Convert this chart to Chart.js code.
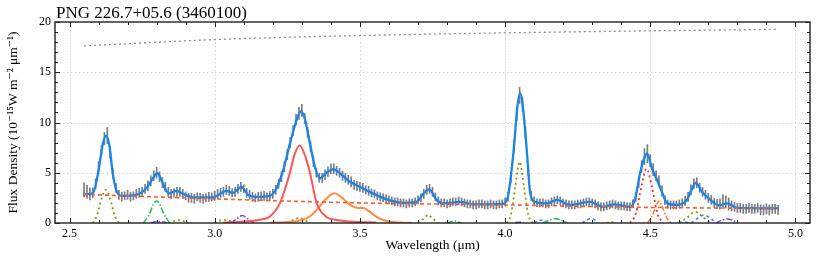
<!DOCTYPE html>
<html><head><meta charset="utf-8">
<script src="https://cdn.jsdelivr.net/npm/chart.js@4/dist/chart.umd.min.js"></script>
<style>html,body{margin:0;padding:0;background:#fff;}canvas{display:block;}</style>
</head><body>
<canvas id="c" width="830" height="256"></canvas>
<script>
const chartTitle = 'PNG 226.7+05.6 (3460100)';
const xLabel = 'Wavelength (μm)';
const yLabel = 'Flux Density (10⁻¹⁵W m⁻² μm⁻¹)';
const xTicks = [2.5, 3.0, 3.5, 4.0, 4.5, 5.0];
const yTicks = [0, 5, 10, 15, 20];

// observed spectrum (with 1-sigma errors)
const obsX = [
2.55,2.56,2.57,2.58,2.59,2.60,2.61,2.62,2.63,2.64,
2.65,2.66,2.67,2.68,2.69,2.70,2.71,2.72,2.73,2.74,
2.75,2.76,2.77,2.78,2.79,2.80,2.81,2.82,2.83,2.84,
2.85,2.86,2.87,2.88,2.89,2.90,2.91,2.92,2.93,2.94,
2.95,2.96,2.97,2.98,2.99,3.00,3.01,3.02,3.03,3.04,
3.05,3.06,3.07,3.08,3.09,3.10,3.11,3.12,3.13,3.14,
3.15,3.16,3.17,3.18,3.19,3.20,3.21,3.22,3.23,3.24,
3.25,3.26,3.27,3.28,3.29,3.30,3.31,3.32,3.33,3.34,
3.35,3.36,3.37,3.38,3.39,3.40,3.41,3.42,3.43,3.44,
3.45,3.46,3.47,3.48,3.49,3.50,3.51,3.52,3.53,3.54,
3.55,3.56,3.57,3.58,3.59,3.60,3.61,3.62,3.63,3.64,
3.65,3.66,3.67,3.68,3.69,3.70,3.71,3.72,3.73,3.74,
3.75,3.76,3.77,3.78,3.79,3.80,3.81,3.82,3.83,3.84,
3.85,3.86,3.87,3.88,3.89,3.90,3.91,3.92,3.93,3.94,
3.95,3.96,3.97,3.98,3.99,4.00,4.01,4.02,4.03,4.04,
4.05,4.06,4.07,4.08,4.09,4.10,4.11,4.12,4.13,4.14,
4.15,4.16,4.17,4.18,4.19,4.20,4.21,4.22,4.23,4.24,
4.25,4.26,4.27,4.28,4.29,4.30,4.31,4.32,4.33,4.34,
4.35,4.36,4.37,4.38,4.39,4.40,4.41,4.42,4.43,4.44,
4.45,4.46,4.47,4.48,4.49,4.50,4.51,4.52,4.53,4.54,
4.55,4.56,4.57,4.58,4.59,4.60,4.61,4.62,4.63,4.64,
4.65,4.66,4.67,4.68,4.69,4.70,4.71,4.72,4.73,4.74,
4.75,4.76,4.77,4.78,4.79,4.80,4.81,4.82,4.83,4.84,
4.85,4.86,4.87,4.88,4.89,4.90,4.91,4.92,4.93,4.94];
const obsY = [
3.3,3.1,2.9,3.0,3.9,5.6,7.2,8.4,8.7,7.0,
4.9,3.5,2.8,2.6,2.7,2.8,2.6,2.7,2.9,3.0,
3.1,3.4,3.7,4.2,4.7,5.0,4.6,4.0,3.6,3.1,
2.9,3.0,3.1,3.1,2.9,2.7,2.5,2.5,2.4,2.6,
2.5,2.4,2.5,2.6,2.6,2.7,2.9,3.0,3.1,3.3,
3.2,3.0,3.1,3.4,3.6,3.4,3.0,2.8,2.6,2.5,
2.6,2.7,2.7,2.6,2.7,2.9,3.3,3.9,4.6,5.6,
6.8,8.0,9.2,10.3,10.9,11.2,10.4,9.0,7.6,6.1,
5.0,4.5,4.5,4.8,5.1,5.4,5.4,5.2,5.0,4.7,
4.5,4.3,4.1,3.8,3.7,3.6,3.5,3.3,3.2,3.0,
2.9,2.7,2.6,2.5,2.4,2.3,2.2,2.1,2.1,2.0,
2.0,1.9,2.0,2.0,2.1,2.3,2.5,2.9,3.3,3.4,
3.1,2.6,2.2,2.0,2.0,1.9,2.0,2.1,2.1,2.2,
2.1,2.0,1.9,1.9,1.8,1.8,1.9,1.9,1.8,1.8,
1.9,1.8,1.8,1.9,1.9,2.1,2.6,4.5,7.6,10.8,
12.7,11.8,9.0,5.2,2.7,2.2,2.0,2.0,2.0,1.9,
1.9,2.1,2.2,2.3,2.2,2.0,1.9,1.8,1.8,1.8,
1.9,1.9,2.0,2.1,2.1,2.0,1.9,1.7,1.6,1.6,
1.7,1.8,1.9,1.8,1.7,1.7,1.7,1.6,1.6,1.9,
2.6,4.0,5.6,6.6,6.9,6.2,5.3,4.7,4.2,3.2,
2.3,1.9,1.8,1.8,1.8,1.9,2.0,2.2,2.6,3.3,
3.9,4.0,3.5,3.1,2.8,2.5,2.3,2.0,1.9,1.9,
2.2,2.1,1.9,1.7,1.6,1.5,1.5,1.4,1.4,1.5,
1.4,1.4,1.5,1.3,1.3,1.4,1.3,1.4,1.4,1.3];
const obsErr = [
0.7,0.65,0.6,0.5,0.5,0.5,0.5,0.6,0.8,0.6,
0.5,0.45,0.45,0.45,0.4,0.45,0.45,0.4,0.45,0.45,
0.45,0.45,0.5,0.5,0.5,0.55,0.5,0.5,0.45,0.45,
0.45,0.4,0.45,0.45,0.45,0.4,0.45,0.45,0.45,0.4,
0.45,0.45,0.4,0.45,0.4,0.45,0.45,0.45,0.45,0.45,
0.45,0.4,0.45,0.45,0.45,0.4,0.45,0.45,0.45,0.4,
0.45,0.4,0.45,0.4,0.45,0.45,0.45,0.45,0.5,0.5,
0.5,0.5,0.5,0.55,0.6,0.6,0.5,0.5,0.5,0.5,
0.45,0.45,0.45,0.5,0.5,0.5,0.5,0.45,0.45,0.45,
0.45,0.45,0.5,0.45,0.45,0.45,0.45,0.4,0.45,0.4,
0.4,0.4,0.4,0.4,0.4,0.4,0.4,0.4,0.4,0.4,
0.4,0.4,0.4,0.4,0.4,0.4,0.4,0.45,0.45,0.45,
0.45,0.4,0.4,0.4,0.4,0.4,0.4,0.4,0.4,0.4,
0.4,0.4,0.4,0.4,0.4,0.4,0.4,0.4,0.4,0.4,
0.4,0.4,0.4,0.4,0.4,0.4,0.45,0.5,0.6,0.6,
0.8,0.7,0.6,0.5,0.45,0.4,0.4,0.4,0.4,0.4,
0.4,0.4,0.4,0.4,0.4,0.4,0.4,0.4,0.4,0.4,
0.4,0.4,0.4,0.4,0.4,0.4,0.4,0.4,0.4,0.4,
0.4,0.4,0.4,0.4,0.4,0.4,0.4,0.4,0.4,0.4,
0.45,0.5,0.6,0.8,0.9,0.6,0.6,0.5,0.5,0.5,
0.45,0.4,0.4,0.4,0.4,0.4,0.4,0.45,0.45,0.5,
0.5,0.5,0.45,0.45,0.45,0.45,0.45,0.45,0.45,0.5,
0.6,0.6,0.6,0.5,0.45,0.45,0.45,0.45,0.45,0.45,
0.45,0.45,0.45,0.5,0.5,0.5,0.5,0.45,0.45,0.45];

// total fit
const fitX = [2.548,2.58,2.598,2.615,2.626,2.638,2.649,2.667,2.684,2.73,2.764,2.787,2.802,2.816,2.833,2.845,2.868,2.891,2.925,2.994,3.04,3.063,3.092,3.115,3.144,3.19,3.213,3.236,3.259,3.282,3.297,3.31,3.328,3.345,3.362,3.385,3.408,3.431,3.466,3.5,3.534,3.592,3.649,3.695,3.718,3.739,3.764,3.787,3.845,3.891,3.994,4.011,4.029,4.043,4.052,4.063,4.075,4.086,4.103,4.144,4.178,4.224,4.293,4.339,4.373,4.431,4.448,4.466,4.489,4.506,4.523,4.54,4.558,4.592,4.626,4.644,4.657,4.678,4.707,4.736,4.764,4.799,4.942];
const fitY = [2.85,2.95,4.9,7.9,8.7,7.6,4.9,2.9,2.7,2.8,3.45,4.45,4.95,4.3,3.2,2.95,3.2,2.9,2.55,2.55,3.2,3.0,3.6,2.8,2.6,2.7,3.45,5.3,7.9,10.25,11.1,10.4,7.9,5.6,4.45,5.0,5.35,4.95,4.1,3.6,3.1,2.35,2.0,2.1,2.9,3.35,2.3,1.95,2.1,1.85,1.9,2.8,7.1,11.7,12.9,11.1,7.1,3.1,2.1,1.95,2.3,1.8,2.1,1.6,1.85,1.6,2.45,5.1,6.9,5.4,4.3,3.1,1.95,1.8,2.3,3.45,4.0,3.1,2.3,1.75,1.95,1.5,1.45];

// continuum and upper reference curve
const contX = [2.55, 3.0, 3.5, 4.0, 4.5, 4.94];
const contY = [2.85, 2.4, 2.0, 1.8, 1.55, 1.45];
const topX = [2.55, 3.0, 3.5, 4.0, 4.5, 4.94];
const topY = [17.62, 18.25, 18.65, 18.92, 19.12, 19.27];

// 3.3 um (red) and 3.4 um (orange) features
const f33X = [3.03,3.10,3.15,3.19,3.225,3.259,3.275,3.293,3.31,3.328,3.351,3.385,3.42,3.46,3.557];
const f33Y = [0.05,0.15,0.3,0.65,2.0,5.0,6.8,7.7,6.8,5.0,2.0,0.6,0.3,0.15,0.05];
const f34X = [3.19,3.25,3.30,3.33,3.351,3.385,3.414,3.435,3.454,3.475,3.495,3.511,3.535,3.557,3.58,3.6,3.64,3.678];
const f34Y = [0.02,0.1,0.3,0.7,1.3,2.45,2.95,2.6,2.1,1.65,1.5,1.5,1.1,0.6,0.3,0.15,0.05,0.02];

// line components (null = gap between separate lines)
const oliveX = [2.58,2.595,2.61,2.625,2.64,2.655,2.67,null,2.84,2.86,2.88,2.90,2.91,null,3.0,3.02,3.04,3.06,3.07,null,3.25,3.27,3.29,3.31,3.33,null,3.70,3.72,3.735,3.75,3.77,null,4.005,4.02,4.035,4.05,4.065,4.08,4.095,null,4.35,4.365,4.38,null,4.60,4.625,4.655,4.685,4.71];
const oliveY = [0,0.8,2.4,3.3,2.4,0.8,0,null,0,0.2,0.28,0.12,0,null,0,0.25,0.32,0.1,0,null,0,0.3,0.5,0.3,0,null,0,0.45,0.8,0.45,0,null,0,0.8,3.6,6.1,3.6,0.8,0,null,0,0.12,0,null,0,0.5,1.1,0.5,0];
const greenX = [2.755,2.775,2.79,2.80,2.81,2.825,2.845,null,3.80,3.825,3.85,null,4.13,4.155,4.175,4.195,4.215];
const greenY = [0,0.9,1.9,2.2,1.9,0.9,0,null,0,0.2,0,null,0,0.3,0.42,0.25,0];
const purpleX = [2.78,2.80,2.825,2.835,null,3.055,3.075,3.095,3.115,3.135,null,4.035,4.05,4.065,null,4.725,4.745,4.765,4.785,4.80];
const purpleY = [0,0.15,0.1,0,null,0,0.4,0.75,0.4,0,null,0.05,0.07,0.05,null,0,0.25,0.4,0.25,0];
const blueX = [4.10,4.115,4.13,4.15,null,4.265,4.285,4.30,4.32,null,4.60,4.62,4.64,null,4.64,4.665,4.685,4.705,4.73];
const blueY = [0,0.25,0.3,0,null,0,0.35,0.45,0,null,0,0.1,0,null,0,0.5,0.8,0.5,0];
const redDotX = [4.43,4.45,4.47,4.487,4.505,4.525,4.545];
const redDotY = [0,0.9,3.7,5.4,3.7,0.9,0];
const orangeDDX = [4.49,4.505,4.52,4.53,4.54,4.555,4.57];
const orangeDDY = [0,0.6,1.7,2.2,1.7,0.6,0];

const pts = (xs, ys) => xs.map((x, i) => ({x: x === null ? NaN : x, y: ys[i]}));
const serif = '"Liberation Serif", "DejaVu Serif", serif';

const framePlugin = {
  id: 'frame',
  beforeDatasetsDraw(chart) {
    const {ctx, chartArea: a, scales: {x, y}} = chart;
    ctx.save();
    ctx.strokeStyle = '#d4d4d4';
    ctx.lineWidth = 1;
    ctx.setLineDash([1.5, 2.5]);
    xTicks.forEach(v => {
      const p = Math.round(x.getPixelForValue(v)) + 0.5;
      ctx.beginPath(); ctx.moveTo(p, a.top); ctx.lineTo(p, a.bottom); ctx.stroke();
    });
    yTicks.forEach(v => {
      if (v === 0 || v === 20) return;
      const p = Math.round(y.getPixelForValue(v)) + 0.5;
      ctx.beginPath(); ctx.moveTo(a.left, p); ctx.lineTo(a.right, p); ctx.stroke();
    });
    ctx.restore();
  },
  afterDraw(chart) {
    const {ctx, chartArea: a, scales: {x, y}} = chart;
    ctx.save();
    ctx.strokeStyle = '#222';
    ctx.lineWidth = 1;
    ctx.setLineDash([]);
    for (let i = 25; i <= 50; i++) {
      const p = Math.round(x.getPixelForValue(i / 10)) + 0.5;
      const len = (i % 5 === 0) ? 5 : 3;
      ctx.beginPath();
      ctx.moveTo(p, a.bottom); ctx.lineTo(p, a.bottom - len);
      ctx.moveTo(p, a.top); ctx.lineTo(p, a.top + len);
      ctx.stroke();
    }
    for (let v = 0; v <= 20; v++) {
      const p = Math.round(y.getPixelForValue(v)) + 0.5;
      const len = (v % 5 === 0) ? 5 : 3;
      ctx.beginPath();
      ctx.moveTo(a.left, p); ctx.lineTo(a.left + len, p);
      ctx.moveTo(a.right, p); ctx.lineTo(a.right - len, p);
      ctx.stroke();
    }
    ctx.lineWidth = 1.4;
    ctx.strokeRect(a.left, a.top, a.right - a.left, a.bottom - a.top);
    ctx.fillStyle = '#000';
    ctx.font = '17px ' + serif;
    ctx.textAlign = 'left';
    ctx.textBaseline = 'alphabetic';
    ctx.fillText(chartTitle, a.left + 1, 18);
    ctx.restore();
  }
};

const lineDs = (xs, ys, color, dash, width, order) => ({
  type: 'line', data: pts(xs, ys), borderColor: color, borderWidth: width,
  borderDash: dash, pointRadius: 0, fill: false, spanGaps: false,
  cubicInterpolationMode: 'monotone', order: order
});

new Chart(document.getElementById('c'), {
  type: 'line',
  data: {
    datasets: [
      {type: 'bar', data: obsX.map((x, i) => ({x: x, y: [obsY[i] - obsErr[i], obsY[i] + obsErr[i]]})),
        backgroundColor: '#7c7c7c', borderWidth: 0, barThickness: 1, grouped: false, order: 10},
      lineDs(topX, topY, '#8c8c8c', [2, 3], 1.3, 2),
      lineDs(f33X, f33Y, '#ff5555', [], 2, 4),
      lineDs(f34X, f34Y, '#ff8c45', [], 2, 4),
      lineDs(oliveX, oliveY, '#8a9a12', [2, 3], 1.8, 4),
      lineDs(greenX, greenY, '#1fbf4a', [6, 2, 1.5, 2], 1.5, 4),
      lineDs(purpleX, purpleY, '#7a3cf0', [6, 2, 1.5, 2], 1.5, 4),
      lineDs(blueX, blueY, '#3a78ff', [3, 3], 1.5, 4),
      lineDs(redDotX, redDotY, '#ff2a2a', [2, 3], 1.8, 4),
      lineDs(orangeDDX, orangeDDY, '#ff7a1a', [5, 2, 1.5, 2], 1.5, 4),
      lineDs(fitX, fitY, '#1a84e8', [], 2.3, 3),
      lineDs(contX, contY, '#ff5a2e', [4, 3], 1.6, 2)
    ]
  },
  options: {
    responsive: false, animation: false, devicePixelRatio: 1,
    layout: {padding: {left: 0, right: 20, top: 22, bottom: 0}},
    plugins: {legend: {display: false}, tooltip: {enabled: false}, title: {display: false}},
    scales: {
      x: {
        type: 'linear', min: 2.45, max: 5.05, offset: false,
        afterFit: s => { s.height = 33; },
        grid: {display: false, drawTicks: false}, border: {display: false},
        ticks: {stepSize: 0.5, includeBounds: false, padding: 4, color: '#000', maxRotation: 0,
          font: {family: serif, size: 12}, callback: v => xTicks.includes(Math.round(v * 10) / 10) ? v.toFixed(1) : ''},
        title: {display: true, text: xLabel, color: '#000', font: {family: serif, size: 13.5}, padding: {top: 0, bottom: 2}}
      },
      y: {
        min: 0, max: 20,
        afterFit: s => { s.width = 55; },
        grid: {display: false, drawTicks: false}, border: {display: false},
        ticks: {stepSize: 5, padding: 4, color: '#000', font: {family: serif, size: 12}},
        title: {display: true, text: yLabel, color: '#000', font: {family: serif, size: 13.5}, padding: {top: 5, bottom: 0}}
      }
    }
  },
  plugins: [framePlugin]
});
</script>
</body></html>
